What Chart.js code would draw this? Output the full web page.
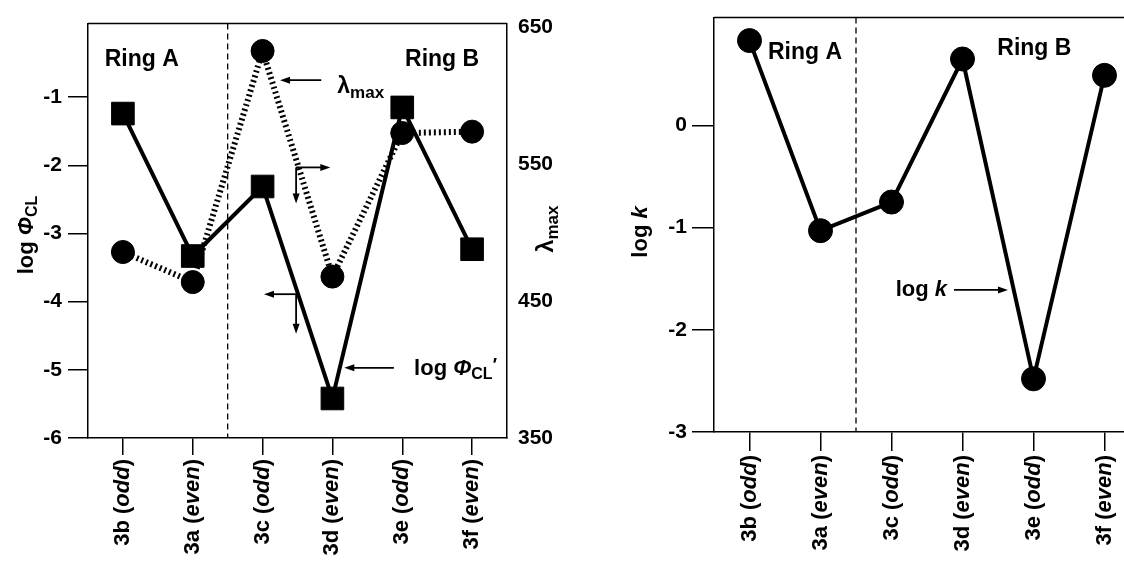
<!DOCTYPE html>
<html lang="en">
<head>
  <meta charset="UTF-8" />
  <title>log ΦCL, λmax and log k of 3a–3f</title>
  <script src="https://cdn.jsdelivr.net/npm/chart.js"></script>
  <style>
    html, body {
      margin: 0;
      padding: 0;
      background: #fff;
      overflow: hidden;
      width: 1124px;
      height: 563px;
    }
    .wrap { position: absolute; top: 0; }
    #leftWrap { left: 0; }
    #rightWrap { left: 562px; }
  </style>
</head>
<body>
  <div class="wrap" id="leftWrap"><canvas id="phiChart" width="562" height="563"></canvas></div>
  <div class="wrap" id="rightWrap"><canvas id="kChart" width="600" height="563"></canvas></div>

  <script>
    // data
    const compounds = ['3b', '3a', '3c', '3d', '3e', '3f'];
    const parity = ['odd', 'even', 'odd', 'even', 'odd', 'even'];
    const logPhiCL = [-1.24, -3.33, -2.31, -5.42, -1.15, -3.23];
    const lambdaMax = [486, 464, 633, 468, 573, 574];
    const logK = [0.83, -1.03, -0.75, 0.65, -2.48, 0.49];
    const phiTicks = [-6, -5, -4, -3, -2, -1];
    const lambdaTicks = [350, 450, 550, 650];
    const kTicks = [-3, -2, -1, 0];

    const FONT = '"Liberation Sans", Arial, Helvetica, sans-serif';
    const INK = '#000';

    function setFont(ctx, run, base) {
      const size = run.size || base;
      ctx.font = (run.italic ? 'italic ' : '') + 'bold ' + size + 'px ' + FONT;
    }

    // draw a row of text pieces (normal / italic / subscript)
    function drawRuns(ctx, runs, x, y, align, base) {
      let total = 0;
      runs.forEach(r => { setFont(ctx, r, base); total += ctx.measureText(r.t).width; });
      let cx = align === 'right' ? x - total : align === 'center' ? x - total / 2 : x;
      ctx.textAlign = 'left';
      ctx.textBaseline = 'middle';
      runs.forEach(r => {
        setFont(ctx, r, base);
        ctx.fillText(r.t, cx, y + (r.dy || 0));
        cx += ctx.measureText(r.t).width;
      });
    }

    function arrow(ctx, x1, y1, x2, y2) {
      const a = Math.atan2(y2 - y1, x2 - x1);
      const len = 10, half = 3.5;
      ctx.beginPath();
      ctx.moveTo(x1, y1);
      ctx.lineTo(x2 - Math.cos(a) * len * 0.8, y2 - Math.sin(a) * len * 0.8);
      ctx.stroke();
      ctx.beginPath();
      ctx.moveTo(x2, y2);
      ctx.lineTo(x2 - Math.cos(a) * len - Math.sin(a) * half, y2 - Math.sin(a) * len + Math.cos(a) * half);
      ctx.lineTo(x2 - Math.cos(a) * len + Math.sin(a) * half, y2 - Math.sin(a) * len - Math.cos(a) * half);
      ctx.closePath();
      ctx.fill();
    }

    const figureExtras = {
      id: 'figureExtras',
      beforeDatasetsDraw(chart, args, opts) {
        const ctx = chart.ctx;
        const area = chart.chartArea;
        const x = chart.scales.x;
        ctx.save();
        ctx.strokeStyle = INK;
        // top frame line
        ctx.lineWidth = 1.5;
        ctx.beginPath();
        ctx.moveTo(area.left, area.top);
        ctx.lineTo(opts.topToEdge ? chart.width : area.right, area.top);
        ctx.stroke();
        // ring A / ring B divider
        const dx = x.getPixelForValue(opts.divider);
        ctx.lineWidth = 1.3;
        ctx.setLineDash([6, 4]);
        ctx.beginPath();
        ctx.moveTo(dx, area.top);
        ctx.lineTo(dx, area.bottom);
        ctx.stroke();
        ctx.restore();
      },
      afterDraw(chart, args, opts) {
        const ctx = chart.ctx;
        const x = chart.scales.x;
        const y = chart.scales.y;
        ctx.save();
        ctx.fillStyle = INK;
        ctx.strokeStyle = INK;

        // category labels, rotated, with italic parity
        x.ticks.forEach((t, i) => {
          const px = x.getPixelForTick(i);
          ctx.save();
          ctx.translate(px, x.top + opts.labelGap);
          ctx.rotate(-Math.PI / 2);
          drawRuns(ctx, [
            { t: compounds[i] + ' (' },
            { t: parity[i], italic: true },
            { t: ')' }
          ], 0, 0, 'right', 22);
          ctx.restore();
        });

        // axis titles
        opts.titles.forEach(tt => {
          ctx.save();
          ctx.translate(tt.x, tt.y);
          ctx.rotate(-Math.PI / 2);
          drawRuns(ctx, tt.runs, 0, 0, 'center', 22);
          ctx.restore();
        });

        // in-plot notes
        opts.notes.forEach(n => {
          drawRuns(ctx, n.runs, x.getPixelForValue(n.at[0]), y.getPixelForValue(n.at[1]), 'left', n.size || 22);
        });
        ctx.lineWidth = 1.8;
        opts.arrows.forEach(a => {
          arrow(ctx,
            x.getPixelForValue(a.from[0]), y.getPixelForValue(a.from[1]),
            x.getPixelForValue(a.to[0]), y.getPixelForValue(a.to[1]));
        });
        ctx.restore();
      }
    };

    function axisBase(tickLength) {
      return {
        grid: { display: true, drawOnChartArea: false, drawTicks: tickLength > 0, tickLength: tickLength, color: INK, lineWidth: 1.5 },
        border: { display: true, color: INK, width: 1.5 }
      };
    }
    const tickFont = { family: FONT, size: 21, weight: 'bold' };

    // left panel: log ΦCL and λmax
    new Chart(document.getElementById('phiChart'), {
      type: 'line',
      data: {
        labels: compounds,
        datasets: [
          {
            label: 'log ΦCL',
            data: logPhiCL,
            yAxisID: 'y',
            borderColor: INK,
            backgroundColor: INK,
            borderWidth: 4,
            pointStyle: 'rect',
            pointRadius: 16,
            pointBorderWidth: 1,
            order: 0
          },
          {
            label: 'λmax',
            data: lambdaMax,
            yAxisID: 'y1',
            borderColor: INK,
            backgroundColor: INK,
            borderWidth: 6,
            borderDash: [2, 3],
            pointStyle: 'circle',
            pointRadius: 11.5,
            pointBorderWidth: 1,
            order: 1
          }
        ]
      },
      options: {
        responsive: false,
        animation: false,
        devicePixelRatio: 1,
        layout: { padding: { top: 21, left: 0, right: 0, bottom: 0 } },
        plugins: {
          legend: { display: false },
          tooltip: { enabled: false },
          figureExtras: {
            divider: 1.5,
            topToEdge: false,
            labelGap: 21,
            titles: [
              { x: 27, y: 235, runs: [{ t: 'log ' }, { t: 'Φ', italic: true }, { t: 'CL', size: 16, dy: 6 }] },
              { x: 547, y: 229, runs: [{ t: 'λ', size: 23 }, { t: 'max', size: 17, dy: 6 }] }
            ],
            notes: [
              { at: [-0.26, -0.45], size: 23, runs: [{ t: 'Ring A' }] },
              { at: [4.04, -0.45], size: 23, runs: [{ t: 'Ring B' }] },
              { at: [3.07, -0.85], runs: [{ t: 'λ', size: 23 }, { t: 'max', size: 17, dy: 6 }] },
              { at: [4.17, -4.98], runs: [{ t: 'log ' }, { t: 'Φ', italic: true }, { t: 'CL', size: 16, dy: 6 }, { t: '\u2032', size: 18, dy: -2 }] }
            ],
            arrows: [
              { from: [2.84, -0.75], to: [2.25, -0.75] },
              { from: [3.88, -4.97], to: [3.17, -4.97] },
              { from: [2.48, -2.03], to: [2.97, -2.03] },
              { from: [2.48, -2.03], to: [2.48, -2.56] },
              { from: [2.48, -3.89], to: [2.02, -3.89] },
              { from: [2.48, -3.89], to: [2.48, -4.47] }
            ]
          }
        },
        scales: {
          x: Object.assign(axisBase(17), {
            type: 'category',
            offset: true,
            ticks: { display: false },
            afterFit: s => { s.height = 125; }
          }),
          y: Object.assign(axisBase(20), {
            position: 'left',
            min: -6,
            max: 0.08,
            afterBuildTicks: s => { s.ticks = phiTicks.map(v => ({ value: v })); },
            ticks: { color: INK, padding: 6, font: tickFont },
            afterFit: s => { s.width = 88; }
          }),
          y1: Object.assign(axisBase(0), {
            position: 'right',
            min: 350,
            max: 653,
            afterBuildTicks: s => { s.ticks = lambdaTicks.map(v => ({ value: v })); },
            ticks: { color: INK, padding: 11, font: tickFont },
            afterFit: s => { s.width = 55; }
          })
        }
      },
      plugins: [figureExtras]
    });

    // right panel: log k
    new Chart(document.getElementById('kChart'), {
      type: 'line',
      data: {
        labels: compounds,
        datasets: [{
          label: 'log k',
          data: logK,
          borderColor: INK,
          backgroundColor: INK,
          borderWidth: 4,
          pointStyle: 'circle',
          pointRadius: 12,
          pointBorderWidth: 1
        }]
      },
      options: {
        responsive: false,
        animation: false,
        devicePixelRatio: 1,
        layout: { padding: { top: 17, left: 0, right: 22, bottom: 0 } },
        plugins: {
          legend: { display: false },
          tooltip: { enabled: false },
          figureExtras: {
            divider: 1.5,
            topToEdge: true,
            labelGap: 23,
            titles: [
              { x: 79, y: 232, runs: [{ t: 'log ' }, { t: 'k', italic: true }] }
            ],
            notes: [
              { at: [0.26, 0.71], size: 23, runs: [{ t: 'Ring A' }] },
              { at: [3.49, 0.75], size: 23, runs: [{ t: 'Ring B' }] },
              { at: [2.06, -1.61], runs: [{ t: 'log ' }, { t: 'k', italic: true }] }
            ],
            arrows: [
              { from: [2.88, -1.61], to: [3.64, -1.61] }
            ]
          }
        },
        scales: {
          x: Object.assign(axisBase(19), {
            type: 'category',
            offset: true,
            ticks: { display: false },
            afterFit: s => { s.height = 131; }
          }),
          y: Object.assign(axisBase(22), {
            position: 'left',
            min: -3,
            max: 1.055,
            afterBuildTicks: s => { s.ticks = kTicks.map(v => ({ value: v })); },
            ticks: { color: INK, padding: 5, font: tickFont },
            afterFit: s => { s.width = 152; }
          })
        }
      },
      plugins: [figureExtras]
    });
  </script>
</body>
</html>
